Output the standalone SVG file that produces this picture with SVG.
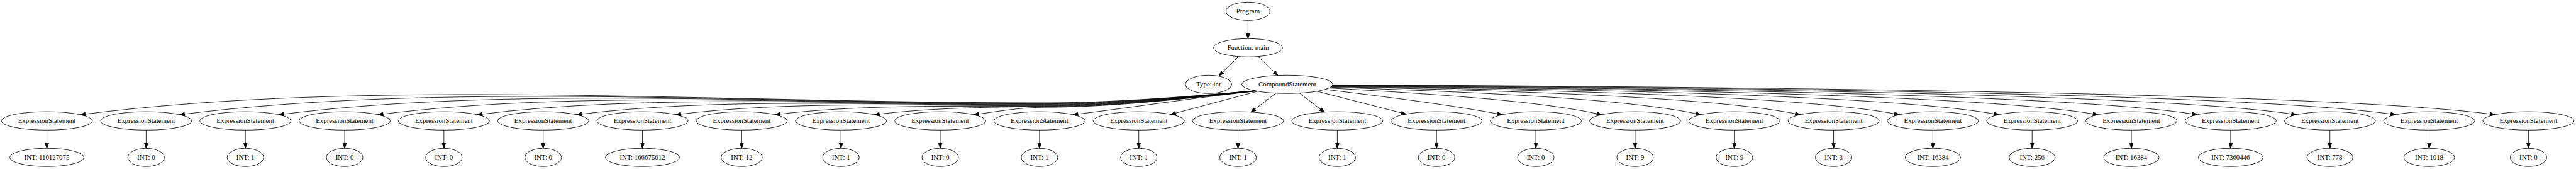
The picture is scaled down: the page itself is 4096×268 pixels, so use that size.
<svg xmlns="http://www.w3.org/2000/svg" width="4096" height="268" viewBox="0 0 4096 268">
<style>
.n ellipse{fill:none;stroke:#000;stroke-width:1.4}
.n text{font-family:"Liberation Serif","Times New Roman",serif;font-size:18px;text-anchor:middle;fill:#000}
#edges path{fill:none;stroke:#000;stroke-width:1.4;marker-end:url(#ah)}
</style>
<defs>
<marker id="ah" markerUnits="userSpaceOnUse" viewBox="0 0 16 12" markerWidth="16" markerHeight="12" refX="14" refY="6" orient="auto" overflow="visible">
<path d="M1,1.33 L14,6 L1,10.67 Z" fill="#000" stroke="#000" stroke-width="1.4"/>
</marker>
</defs>
<rect width="4096" height="268" fill="#fff"/>
<g transform="scale(0.6039)">
<g id="edges">
<path d="M3286,53.5 L3286,101.5"/>
<path d="M3261,148.6 L3209.5,199"/>
<path d="M3312.5,148.5 L3364.5,198"/>
<path d="M3303,238.2 C3180,249 2950,270 2750,270 C1861.5,270 973,204.7 211.4,301.2"/>
<path d="M3303.5,238.3 C3180,249.3 2950,271.3 2750,271.3 C1953,271.3 1156,214.7 472.8,301.2"/>
<path d="M3304,238.4 C3180,249.6 2950,272.6 2750,272.6 C2044.4,272.6 1338.9,224.6 734.1,301.2"/>
<path d="M3304.5,238.5 C3180,249.9 2950,273.9 2750,273.9 C2135.9,273.9 1521.9,234.5 995.5,301.2"/>
<path d="M3305,238.6 C3180,250.2 2950,275.2 2750,275.2 C2227.4,275.2 1704.8,244.5 1256.8,301.2"/>
<path d="M3305.5,238.7 C3180,250.5 2950,276.5 2750,276.5 C2318.9,276.5 1887.7,254.4 1518.2,301.2"/>
<path d="M3306,238.8 C3180,250.8 2950,277.8 2750,277.8 C2410.4,277.8 2070.7,264.3 1779.6,301.2"/>
<path d="M3306.5,238.9 C3180,251.1 2950,279.1 2750,279.1 C2501.8,279.1 2253.6,274.3 2040.9,301.2"/>
<path d="M3307,239 C3180,251.4 2950,280.4 2750,280.4 C2593.3,280.4 2436.6,284.2 2302.3,301.2"/>
<path d="M3307.5,239.1 C3180,251.7 2950,281.7 2750,281.7 C2684.8,281.7 2619.5,294.1 2563.6,301.2"/>
<path d="M3308,239.2 C3150,256 2960,285 2825,301.2"/>
<path d="M3311.5,239.7 L3082.4,300.4"/>
<path d="M3359.5,244.7 L3293.7,294.5"/>
<path d="M3421.5,244.6 L3487.1,294.5"/>
<path d="M3467.5,239.7 L3702.4,299.6"/>
<path d="M3489.5,234.8 C3676,257.8 3817.3,275.2 3955.8,301.2"/>
<path d="M3499.5,231.1 C3786.6,247.6 4053.6,264.7 4217.2,301.2"/>
<path d="M3503.5,229 C3893.5,242.1 4289.3,259 4478.5,301.2"/>
<path d="M3505.5,227.6 C3999.3,238.6 4524.5,255.5 4739.9,301.2"/>
<path d="M3506.5,226.8 C4104.4,236.4 4759.7,253.2 5001.2,301.2"/>
<path d="M3507.5,225.9 C4209.5,234.5 4995.1,251.4 5262.6,301.2"/>
<path d="M3508,225.3 C4314.4,233.1 5230.4,250 5523.9,301.2"/>
<path d="M3508.5,224.6 C4419.2,231.9 5465.4,248.8 5785.3,301.2"/>
<path d="M3509,223.9 C4524.1,230.7 5700.8,247.7 6046.7,301.2"/>
<path d="M3509.2,223.2 C4628.7,229.7 5936,246.7 6308,301.2"/>
<path d="M3509.4,222.5 C4733.4,228.6 6171.6,245.8 6569.4,301.2"/>
<path d="M123.4,341.5 L123.4,389.5"/>
<path d="M384.8,341.5 L384.8,389.5"/>
<path d="M646.1,341.5 L646.1,389.5"/>
<path d="M907.5,341.5 L907.5,389.5"/>
<path d="M1168.8,341.5 L1168.8,389.5"/>
<path d="M1430.2,341.5 L1430.2,389.5"/>
<path d="M1691.6,341.5 L1691.6,389.5"/>
<path d="M1952.9,341.5 L1952.9,389.5"/>
<path d="M2214.3,341.5 L2214.3,389.5"/>
<path d="M2475.6,341.5 L2475.6,389.5"/>
<path d="M2737,341.5 L2737,389.5"/>
<path d="M2998.4,341.5 L2998.4,389.5"/>
<path d="M3259.7,341.5 L3259.7,389.5"/>
<path d="M3521.1,341.5 L3521.1,389.5"/>
<path d="M3782.4,341.5 L3782.4,389.5"/>
<path d="M4043.8,341.5 L4043.8,389.5"/>
<path d="M4305.2,341.5 L4305.2,389.5"/>
<path d="M4566.5,341.5 L4566.5,389.5"/>
<path d="M4827.9,341.5 L4827.9,389.5"/>
<path d="M5089.2,341.5 L5089.2,389.5"/>
<path d="M5350.6,341.5 L5350.6,389.5"/>
<path d="M5611.9,341.5 L5611.9,389.5"/>
<path d="M5873.3,341.5 L5873.3,389.5"/>
<path d="M6134.7,341.5 L6134.7,389.5"/>
<path d="M6396,341.5 L6396,389.5"/>
<path d="M6657.4,341.5 L6657.4,389.5"/>
</g>
<g id="program" class="n"><ellipse cx="3286" cy="29.5" rx="58" ry="24"/><text x="3286" y="35.5">Program</text></g>
<g id="function" class="n"><ellipse cx="3286" cy="125.5" rx="91" ry="24"/><text x="3286" y="131.5">Function: main</text></g>
<g id="type" class="n"><ellipse cx="3182" cy="221.5" rx="61" ry="24"/><text x="3182" y="227.5">Type: int</text></g>
<g id="compound" class="n"><ellipse cx="3389.5" cy="221.5" rx="120" ry="24"/><text x="3389.5" y="227.5">CompoundStatement</text></g>
<g id="es1" class="n"><ellipse cx="123.4" cy="317.5" rx="120" ry="24.2"/><text x="123.4" y="323.5">ExpressionStatement</text></g>
<g id="es2" class="n"><ellipse cx="384.8" cy="317.5" rx="120" ry="24.2"/><text x="384.8" y="323.5">ExpressionStatement</text></g>
<g id="es3" class="n"><ellipse cx="646.1" cy="317.5" rx="120" ry="24.2"/><text x="646.1" y="323.5">ExpressionStatement</text></g>
<g id="es4" class="n"><ellipse cx="907.5" cy="317.5" rx="120" ry="24.2"/><text x="907.5" y="323.5">ExpressionStatement</text></g>
<g id="es5" class="n"><ellipse cx="1168.8" cy="317.5" rx="120" ry="24.2"/><text x="1168.8" y="323.5">ExpressionStatement</text></g>
<g id="es6" class="n"><ellipse cx="1430.2" cy="317.5" rx="120" ry="24.2"/><text x="1430.2" y="323.5">ExpressionStatement</text></g>
<g id="es7" class="n"><ellipse cx="1691.6" cy="317.5" rx="120" ry="24.2"/><text x="1691.6" y="323.5">ExpressionStatement</text></g>
<g id="es8" class="n"><ellipse cx="1952.9" cy="317.5" rx="120" ry="24.2"/><text x="1952.9" y="323.5">ExpressionStatement</text></g>
<g id="es9" class="n"><ellipse cx="2214.3" cy="317.5" rx="120" ry="24.2"/><text x="2214.3" y="323.5">ExpressionStatement</text></g>
<g id="es10" class="n"><ellipse cx="2475.6" cy="317.5" rx="120" ry="24.2"/><text x="2475.6" y="323.5">ExpressionStatement</text></g>
<g id="es11" class="n"><ellipse cx="2737" cy="317.5" rx="120" ry="24.2"/><text x="2737" y="323.5">ExpressionStatement</text></g>
<g id="es12" class="n"><ellipse cx="2998.4" cy="317.5" rx="120" ry="24.2"/><text x="2998.4" y="323.5">ExpressionStatement</text></g>
<g id="es13" class="n"><ellipse cx="3259.7" cy="317.5" rx="120" ry="24.2"/><text x="3259.7" y="323.5">ExpressionStatement</text></g>
<g id="es14" class="n"><ellipse cx="3521.1" cy="317.5" rx="120" ry="24.2"/><text x="3521.1" y="323.5">ExpressionStatement</text></g>
<g id="es15" class="n"><ellipse cx="3782.4" cy="317.5" rx="120" ry="24.2"/><text x="3782.4" y="323.5">ExpressionStatement</text></g>
<g id="es16" class="n"><ellipse cx="4043.8" cy="317.5" rx="120" ry="24.2"/><text x="4043.8" y="323.5">ExpressionStatement</text></g>
<g id="es17" class="n"><ellipse cx="4305.2" cy="317.5" rx="120" ry="24.2"/><text x="4305.2" y="323.5">ExpressionStatement</text></g>
<g id="es18" class="n"><ellipse cx="4566.5" cy="317.5" rx="120" ry="24.2"/><text x="4566.5" y="323.5">ExpressionStatement</text></g>
<g id="es19" class="n"><ellipse cx="4827.9" cy="317.5" rx="120" ry="24.2"/><text x="4827.9" y="323.5">ExpressionStatement</text></g>
<g id="es20" class="n"><ellipse cx="5089.2" cy="317.5" rx="120" ry="24.2"/><text x="5089.2" y="323.5">ExpressionStatement</text></g>
<g id="es21" class="n"><ellipse cx="5350.6" cy="317.5" rx="120" ry="24.2"/><text x="5350.6" y="323.5">ExpressionStatement</text></g>
<g id="es22" class="n"><ellipse cx="5611.9" cy="317.5" rx="120" ry="24.2"/><text x="5611.9" y="323.5">ExpressionStatement</text></g>
<g id="es23" class="n"><ellipse cx="5873.3" cy="317.5" rx="120" ry="24.2"/><text x="5873.3" y="323.5">ExpressionStatement</text></g>
<g id="es24" class="n"><ellipse cx="6134.7" cy="317.5" rx="120" ry="24.2"/><text x="6134.7" y="323.5">ExpressionStatement</text></g>
<g id="es25" class="n"><ellipse cx="6396" cy="317.5" rx="120" ry="24.2"/><text x="6396" y="323.5">ExpressionStatement</text></g>
<g id="es26" class="n"><ellipse cx="6657.4" cy="317.5" rx="120" ry="24.2"/><text x="6657.4" y="323.5">ExpressionStatement</text></g>
<g id="int1" class="n"><ellipse cx="123.4" cy="413.5" rx="97.6" ry="24"/><text x="123.4" y="419.5">INT: 110127075</text></g>
<g id="int2" class="n"><ellipse cx="384.8" cy="413.5" rx="48" ry="24"/><text x="384.8" y="419.5">INT: 0</text></g>
<g id="int3" class="n"><ellipse cx="646.1" cy="413.5" rx="48" ry="24"/><text x="646.1" y="419.5">INT: 1</text></g>
<g id="int4" class="n"><ellipse cx="907.5" cy="413.5" rx="48" ry="24"/><text x="907.5" y="419.5">INT: 0</text></g>
<g id="int5" class="n"><ellipse cx="1168.8" cy="413.5" rx="48" ry="24"/><text x="1168.8" y="419.5">INT: 0</text></g>
<g id="int6" class="n"><ellipse cx="1430.2" cy="413.5" rx="48" ry="24"/><text x="1430.2" y="419.5">INT: 0</text></g>
<g id="int7" class="n"><ellipse cx="1691.6" cy="413.5" rx="97.6" ry="24"/><text x="1691.6" y="419.5">INT: 166675612</text></g>
<g id="int8" class="n"><ellipse cx="1952.9" cy="413.5" rx="54.2" ry="24"/><text x="1952.9" y="419.5">INT: 12</text></g>
<g id="int9" class="n"><ellipse cx="2214.3" cy="413.5" rx="48" ry="24"/><text x="2214.3" y="419.5">INT: 1</text></g>
<g id="int10" class="n"><ellipse cx="2475.6" cy="413.5" rx="48" ry="24"/><text x="2475.6" y="419.5">INT: 0</text></g>
<g id="int11" class="n"><ellipse cx="2737" cy="413.5" rx="48" ry="24"/><text x="2737" y="419.5">INT: 1</text></g>
<g id="int12" class="n"><ellipse cx="2998.4" cy="413.5" rx="48" ry="24"/><text x="2998.4" y="419.5">INT: 1</text></g>
<g id="int13" class="n"><ellipse cx="3259.7" cy="413.5" rx="48" ry="24"/><text x="3259.7" y="419.5">INT: 1</text></g>
<g id="int14" class="n"><ellipse cx="3521.1" cy="413.5" rx="48" ry="24"/><text x="3521.1" y="419.5">INT: 1</text></g>
<g id="int15" class="n"><ellipse cx="3782.4" cy="413.5" rx="48" ry="24"/><text x="3782.4" y="419.5">INT: 0</text></g>
<g id="int16" class="n"><ellipse cx="4043.8" cy="413.5" rx="48" ry="24"/><text x="4043.8" y="419.5">INT: 0</text></g>
<g id="int17" class="n"><ellipse cx="4305.2" cy="413.5" rx="48" ry="24"/><text x="4305.2" y="419.5">INT: 9</text></g>
<g id="int18" class="n"><ellipse cx="4566.5" cy="413.5" rx="48" ry="24"/><text x="4566.5" y="419.5">INT: 9</text></g>
<g id="int19" class="n"><ellipse cx="4827.9" cy="413.5" rx="48" ry="24"/><text x="4827.9" y="419.5">INT: 3</text></g>
<g id="int20" class="n"><ellipse cx="5089.2" cy="413.5" rx="72.8" ry="24"/><text x="5089.2" y="419.5">INT: 16384</text></g>
<g id="int21" class="n"><ellipse cx="5350.6" cy="413.5" rx="60.4" ry="24"/><text x="5350.6" y="419.5">INT: 256</text></g>
<g id="int22" class="n"><ellipse cx="5611.9" cy="413.5" rx="72.8" ry="24"/><text x="5611.9" y="419.5">INT: 16384</text></g>
<g id="int23" class="n"><ellipse cx="5873.3" cy="413.5" rx="85.2" ry="24"/><text x="5873.3" y="419.5">INT: 7360446</text></g>
<g id="int24" class="n"><ellipse cx="6134.7" cy="413.5" rx="60.4" ry="24"/><text x="6134.7" y="419.5">INT: 778</text></g>
<g id="int25" class="n"><ellipse cx="6396" cy="413.5" rx="66.6" ry="24"/><text x="6396" y="419.5">INT: 1018</text></g>
<g id="int26" class="n"><ellipse cx="6657.4" cy="413.5" rx="48" ry="24"/><text x="6657.4" y="419.5">INT: 0</text></g>
</g>
</svg>
